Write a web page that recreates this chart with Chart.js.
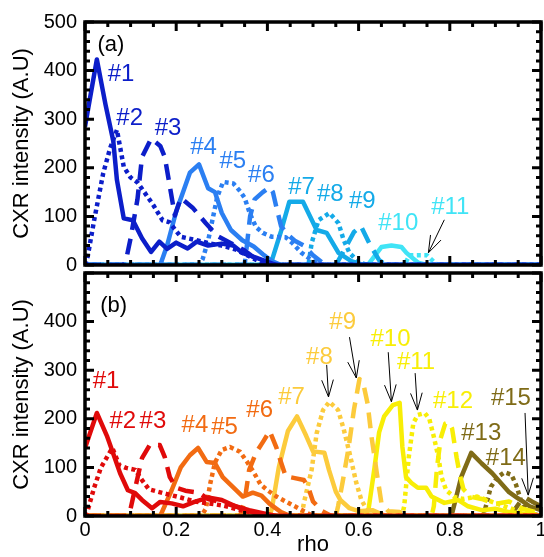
<!DOCTYPE html>
<html>
<head>
<meta charset="utf-8">
<script src="https://cdn.jsdelivr.net/npm/chart.js@4.4.1/dist/chart.umd.min.js"></script>
<style>
  html, body { margin: 0; padding: 0; background: #fff; overflow: hidden; }
  #wrap { position: relative; width: 544px; height: 557px; }
  #topChart { position: absolute; left: 0; top: 0; width: 544px; height: 290px; }
  #bottomChart { position: absolute; left: 0; top: 262px; width: 544px; height: 295px; }
</style>
</head>
<body>
<div id="wrap">
  <canvas id="topChart" width="544" height="290"></canvas>
  <canvas id="bottomChart" width="544" height="295"></canvas>
</div>
<script>
// panel (a): [rho, intensity] profiles
const a1 = [[0,285],[0.026,423],[0.045,330],[0.062,255],[0.07,175],[0.085,96],[0.105,92],[0.125,55],[0.145,27],[0.163,48],[0.18,33],[0.2,46],[0.225,34],[0.245,48],[0.27,40],[0.3,44],[0.325,40],[0.345,25],[0.375,15],[0.405,5],[0.42,0],[1,0]];
const a2 = [[0,0],[0.006,18],[0.02,92],[0.04,189],[0.055,240],[0.07,278],[0.085,202],[0.1,180],[0.115,170],[0.13,150],[0.15,123],[0.17,92],[0.185,88],[0.21,58],[0.24,52],[0.27,45],[0.3,40],[0.33,32],[0.36,18],[0.385,6],[0.41,0],[1,0]];
const a3 = [[0,0],[0.085,0],[0.09,10],[0.1,55],[0.115,135],[0.125,222],[0.145,260],[0.165,245],[0.175,222],[0.197,102],[0.21,138],[0.236,118],[0.265,86],[0.29,60],[0.32,45],[0.35,30],[0.375,12],[0.4,3],[0.42,0],[1,0]];
const a4 = [[0,0],[0.165,0],[0.18,40],[0.2,110],[0.23,190],[0.25,207],[0.27,158],[0.285,150],[0.3,107],[0.32,72],[0.345,51],[0.37,38],[0.39,22],[0.41,8],[0.43,0],[1,0]];
const a5 = [[0,0],[0.25,0],[0.258,12],[0.27,50],[0.28,95],[0.29,140],[0.303,171],[0.325,168],[0.34,152],[0.35,138],[0.362,105],[0.375,78],[0.39,66],[0.41,58],[0.44,57],[0.455,45],[0.475,25],[0.5,8],[0.52,0],[1,0]];
const a6 = [[0,0],[0.35,0],[0.355,40],[0.362,100],[0.372,135],[0.39,150],[0.405,160],[0.412,150],[0.42,118],[0.43,80],[0.445,62],[0.46,50],[0.48,40],[0.5,20],[0.52,5],[0.54,0],[1,0]];
const a7 = [[0,0],[0.4,0],[0.41,10],[0.43,70],[0.448,130],[0.478,130],[0.508,72],[0.53,66],[0.556,25],[0.584,8],[0.61,0],[1,0]];
const a8 = [[0,0],[0.49,0],[0.497,45],[0.512,92],[0.536,107],[0.556,86],[0.567,52],[0.58,25],[0.6,6],[0.62,0],[1,0]];
const a9 = [[0,0],[0.55,0],[0.565,25],[0.59,68],[0.605,80],[0.625,42],[0.645,10],[0.66,0],[1,0]];
const a10 = [[0,0],[0.62,0],[0.65,37],[0.672,40],[0.694,37],[0.705,25],[0.73,5],[0.75,0],[1,0]];
const a11 = [[0,0],[0.7,0],[0.712,20],[0.75,20],[0.77,2],[0.78,0],[1,0]];

// panel (b)
const b1 = [[0,140],[0.026,212],[0.048,165],[0.062,128],[0.077,88],[0.094,53],[0.11,47],[0.125,33],[0.147,16],[0.165,29],[0.19,26],[0.215,20],[0.24,29],[0.27,38],[0.3,33],[0.33,20],[0.36,12],[0.39,6],[0.42,0],[1,0]];
const b2 = [[0,0],[0.006,12],[0.02,58],[0.035,100],[0.06,140],[0.075,105],[0.09,99],[0.11,95],[0.125,74],[0.14,55],[0.16,50],[0.18,45],[0.21,38],[0.24,30],[0.27,26],[0.3,22],[0.33,15],[0.36,8],[0.39,0],[1,0]];
const b3 = [[0,0],[0.09,0],[0.1,15],[0.109,53],[0.125,119],[0.142,146],[0.164,146],[0.175,121],[0.186,80],[0.2,58],[0.22,52],[0.25,48],[0.27,35],[0.3,28],[0.33,20],[0.36,10],[0.39,0],[1,0]];
const b4 = [[0,0],[0.165,0],[0.19,53],[0.21,100],[0.23,125],[0.248,140],[0.267,111],[0.285,109],[0.302,80],[0.324,60],[0.346,40],[0.368,48],[0.387,42],[0.405,25],[0.43,8],[0.45,0],[1,0]];
const b5 = [[0,0],[0.255,0],[0.265,15],[0.275,68],[0.285,110],[0.3,136],[0.318,142],[0.34,132],[0.355,112],[0.37,90],[0.385,65],[0.4,53],[0.42,40],[0.44,30],[0.46,20],[0.48,10],[0.5,0],[1,0]];
const b6 = [[0,0],[0.34,0],[0.35,30],[0.36,95],[0.375,130],[0.39,152],[0.405,175],[0.42,140],[0.43,110],[0.44,82],[0.46,78],[0.48,74],[0.49,58],[0.5,30],[0.52,10],[0.54,0],[1,0]];
const b7 = [[0,0],[0.405,0],[0.41,16],[0.425,100],[0.445,175],[0.465,205],[0.485,165],[0.5,133],[0.525,130],[0.535,95],[0.55,50],[0.56,33],[0.58,16],[0.6,10],[0.63,12],[0.66,0],[1,0]];
const b8 = [[0,0],[0.475,0],[0.48,27],[0.497,95],[0.508,170],[0.522,218],[0.536,235],[0.555,218],[0.567,180],[0.58,130],[0.595,68],[0.606,33],[0.62,10],[0.64,0],[1,0]];
const b9 = [[0,0],[0.55,0],[0.555,20],[0.565,70],[0.578,140],[0.59,220],[0.602,282],[0.612,265],[0.62,230],[0.628,165],[0.635,121],[0.64,88],[0.65,27],[0.665,10],[0.69,8],[0.72,0],[1,0]];
const b10 = [[0,0],[0.615,0],[0.622,15],[0.635,100],[0.645,172],[0.656,205],[0.675,228],[0.69,233],[0.696,142],[0.704,80],[0.716,68],[0.73,58],[0.748,58],[0.76,40],[0.788,27],[0.818,33],[0.84,20],[0.87,12],[0.9,15],[0.93,8],[0.96,5],[1,0]];
const b11 = [[0,0],[0.695,0],[0.7,20],[0.71,121],[0.72,191],[0.73,208],[0.745,212],[0.755,200],[0.765,163],[0.775,121],[0.782,80],[0.792,53],[0.81,39],[0.83,35],[0.86,40],[0.89,30],[0.92,20],[0.95,10],[0.98,5],[1,0]];
const b12 = [[0,0],[0.76,0],[0.765,20],[0.772,100],[0.78,160],[0.79,190],[0.798,193],[0.805,180],[0.81,150],[0.815,120],[0.822,85],[0.83,55],[0.845,40],[0.87,35],[0.9,25],[0.93,30],[0.96,15],[1,5]];
const b13 = [[0,0],[0.8,0],[0.805,5],[0.825,80],[0.847,130],[0.87,108],[0.893,88],[0.912,68],[0.93,49],[0.947,38],[0.96,30],[0.975,20],[1,12]];
const b14 = [[0,0],[0.87,0],[0.875,5],[0.89,60],[0.905,80],[0.92,90],[0.935,85],[0.945,65],[0.955,35],[0.967,15],[0.98,5],[1,0]];
const b15 = [[0,0],[0.93,0],[0.94,10],[0.955,30],[0.967,37],[0.98,30],[1,20]];

const topSeries = [a1, a2, a3, a4, a5, a6, a7, a8, a9, a10, a11];
const bottomSeries = [b1, b2, b3, b4, b5, b6, b7, b8, b9, b10, b11, b12, b13, b14, b15];
const topTags = ["#1", "#2", "#3", "#4", "#5", "#6", "#7", "#8", "#9", "#10", "#11"];
const bottomTags = ["#1", "#2", "#3", "#4", "#5", "#6", "#7", "#8", "#9", "#10", "#11", "#12", "#13", "#14", "#15"];
const xTicks = [0, 0.2, 0.4, 0.6, 0.8, 1];

// where the tags sit, in (rho, intensity) units
const topTagPos = [[0.079,393],[0.098,302],[0.182,282],[0.26,241],[0.324,214],[0.387,185],[0.475,160],[0.538,146],[0.608,130],[0.687,86],[0.801,119]];
const bottomTagPos = [[0.046,278],[0.083,195],[0.149,195],[0.241,187],[0.306,183],[0.383,218],[0.453,245],[0.514,327],[0.565,399],[0.67,364],[0.726,317],[0.807,235],[0.869,169],[0.923,119],[0.934,243]];
const topArrows = [[[0.788,93],[0.753,25]]];
const bottomArrows = [[[0.53,311],[0.534,245]],[[0.58,368],[0.595,284]],[[0.665,337],[0.672,235]],[[0.724,294],[0.729,218]],[[0.965,212],[0.972,43]]];

const topColors = ["#0c1ec9", "#2b7ff2", "#14aae8", "#40e4f6"];
const bottomColors = ["#e00a0a", "#f26b12", "#fccb3c", "#f8ee06", "#7f6b17"];
const dashes = [[], [4, 3.5], [16, 9]];

const FONT = "'Liberation Sans', Arial, Helvetica, sans-serif";

function makeDatasets(series, tags, colors) {
  return series.map((pts, i) => ({
    label: tags[i],
    data: pts.map((p) => ({ x: p[0], y: p[1] })),
    borderColor: colors[Math.floor(i / 3)],
    borderWidth: 4.5,
    borderDash: dashes[i % 3],
    borderCapStyle: "butt",
    borderJoinStyle: "round",
    pointRadius: 0,
    tension: 0,
    fill: false,
  }));
}

// black box with inward ticks on all four sides
const framePlugin = {
  id: "frame",
  afterDatasetsDraw(chart) {
    const { ctx, chartArea: a, scales } = chart;
    const x = scales.x;
    const y = scales.y;
    ctx.save();
    ctx.strokeStyle = "#000";
    ctx.lineWidth = 3;
    ctx.beginPath();
    for (let k = 0; k <= 20; k++) {
      const px = x.getPixelForValue(k * 0.05);
      const len = k % 4 === 0 ? 9 : 5;
      ctx.moveTo(px, a.bottom);
      ctx.lineTo(px, a.bottom - len);
      ctx.moveTo(px, a.top);
      ctx.lineTo(px, a.top + len);
    }
    for (let k = 0; k <= 25; k++) {
      const py = y.getPixelForValue(k * 20);
      const len = k % 5 === 0 ? 9 : 5;
      ctx.moveTo(a.left, py);
      ctx.lineTo(a.left + len, py);
      ctx.moveTo(a.right, py);
      ctx.lineTo(a.right - len, py);
    }
    ctx.stroke();
    ctx.lineWidth = 3.5;
    ctx.strokeRect(a.left, a.top, a.right - a.left, a.bottom - a.top);
    ctx.restore();
  },
};

function notesPlugin(panel, tags, tagPos, colors, arrows) {
  return {
    id: "notes",
    afterDraw(chart) {
      const { ctx } = chart;
      const x = chart.scales.x;
      const y = chart.scales.y;
      ctx.save();
      ctx.textAlign = "center";
      ctx.textBaseline = "middle";
      ctx.font = "22px " + FONT;
      ctx.fillStyle = "#000";
      ctx.fillText(panel.text, x.getPixelForValue(panel.at[0]), y.getPixelForValue(panel.at[1]));
      ctx.font = "24px " + FONT;
      tags.forEach((t, i) => {
        ctx.fillStyle = colors[Math.floor(i / 3)];
        ctx.fillText(t, x.getPixelForValue(tagPos[i][0]), y.getPixelForValue(tagPos[i][1]));
      });
      ctx.strokeStyle = "#000";
      ctx.lineWidth = 1;
      arrows.forEach(([from, to]) => {
        const x0 = x.getPixelForValue(from[0]);
        const y0 = y.getPixelForValue(from[1]);
        const x1 = x.getPixelForValue(to[0]);
        const y1 = y.getPixelForValue(to[1]);
        const ang = Math.atan2(y0 - y1, x0 - x1);
        const head = 18;
        const spread = 0.33;
        ctx.beginPath();
        ctx.moveTo(x0, y0);
        ctx.lineTo(x1, y1);
        ctx.moveTo(x1 + head * Math.cos(ang - spread), y1 + head * Math.sin(ang - spread));
        ctx.lineTo(x1, y1);
        ctx.lineTo(x1 + head * Math.cos(ang + spread), y1 + head * Math.sin(ang + spread));
        ctx.stroke();
      });
      ctx.restore();
    },
  };
}

function yAxis(hideTop) {
  return {
    min: 0,
    max: 500,
    grid: { display: false, drawTicks: false },
    border: { display: false },
    ticks: {
      stepSize: 100,
      padding: 8,
      color: "#000",
      font: { family: FONT, size: 20 },
      callback: (v) => (hideTop && v === 500 ? "" : String(v)),
    },
    title: {
      display: true,
      text: "CXR intensity (A.U)",
      color: "#000",
      font: { family: FONT, size: 22 },
      padding: { top: 9, bottom: 0 },
    },
    afterFit(scale) {
      scale.width = 85;
      scale.paddingTop = 0;
      scale.paddingBottom = 0;
    },
  };
}

function commonOptions() {
  return {
    responsive: false,
    animation: false,
    events: [],
    plugins: { legend: { display: false }, tooltip: { enabled: false } },
  };
}

document.addEventListener("DOMContentLoaded", function () {
  new Chart(document.getElementById("topChart").getContext("2d"), {
    type: "line",
    data: { datasets: makeDatasets(topSeries, topTags, topColors) },
    options: {
      ...commonOptions(),
      layout: { padding: { top: 22, bottom: 25, left: 0, right: 3 } },
      scales: {
        x: { type: "linear", min: 0, max: 1, display: false },
        y: yAxis(false),
      },
    },
    plugins: [framePlugin, notesPlugin({ text: "(a)", at: [0.057, 453] }, topTags, topTagPos, topColors, topArrows)],
  });

  new Chart(document.getElementById("bottomChart").getContext("2d"), {
    type: "line",
    data: { datasets: makeDatasets(bottomSeries, bottomTags, bottomColors) },
    options: {
      ...commonOptions(),
      layout: { padding: { top: 11, bottom: 0, left: 0, right: 3 } },
      scales: {
        x: {
          type: "linear",
          min: 0,
          max: 1,
          grid: { display: false, drawTicks: false },
          border: { display: false },
          afterBuildTicks(scale) {
            scale.ticks = xTicks.map((v) => ({ value: v }));
          },
          ticks: {
            padding: 2,
            maxRotation: 0,
            color: "#000",
            font: { family: FONT, size: 20 },
            callback: (v) => String(v),
          },
          title: {
            display: true,
            text: "rho",
            color: "#000",
            font: { family: FONT, size: 22, lineHeight: 1 },
            padding: { top: 0, bottom: 1 },
          },
          afterFit(scale) {
            scale.height = 41;
            scale.paddingLeft = 0;
            scale.paddingRight = 0;
          },
        },
        y: yAxis(true),
      },
    },
    plugins: [framePlugin, notesPlugin({ text: "(b)", at: [0.063, 432] }, bottomTags, bottomTagPos, bottomColors, bottomArrows)],
  });
});
</script>
</body>
</html>
